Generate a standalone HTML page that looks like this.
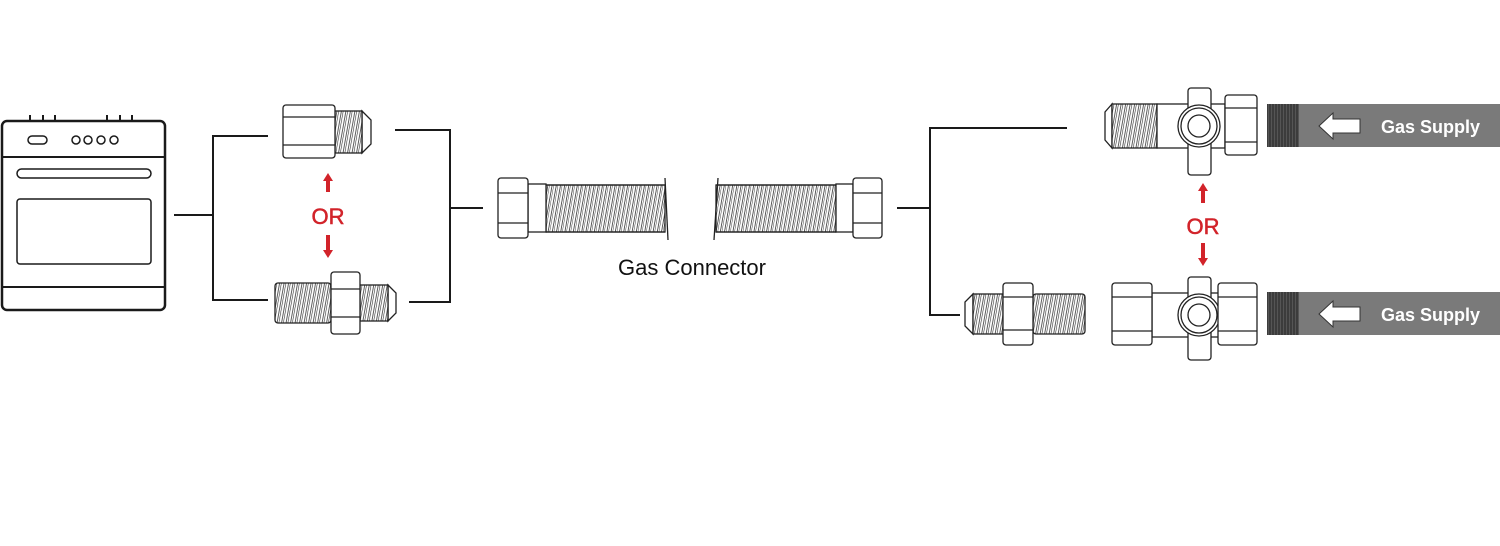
<!DOCTYPE html>
<html><head><meta charset="utf-8"><style>
html,body{margin:0;padding:0;background:#fff;}
svg{display:block;}
text{font-family:"Liberation Sans",sans-serif;}
</style></head><body>
<svg width="1500" height="546" viewBox="0 0 1500 546" xmlns="http://www.w3.org/2000/svg">
<defs>
<pattern id="th" width="4.5" height="10" patternUnits="userSpaceOnUse" patternTransform="skewX(-10)">
<rect width="4.5" height="10" fill="#fff"/><line x1="1" y1="0" x2="1" y2="10" stroke="#333" stroke-width="0.8"/><line x1="2.8" y1="0" x2="2.8" y2="10" stroke="#333" stroke-width="0.6"/>
</pattern>
<pattern id="cor" width="4.2" height="10" patternUnits="userSpaceOnUse" patternTransform="skewX(-10)">
<rect width="4.2" height="10" fill="#fff"/><line x1="1" y1="0" x2="1" y2="10" stroke="#333" stroke-width="0.8"/><line x1="2.6" y1="0" x2="2.6" y2="10" stroke="#444" stroke-width="0.5"/>
</pattern>
<pattern id="pth" width="3" height="10" patternUnits="userSpaceOnUse">
<rect width="3" height="10" fill="#555"/><line x1="1" y1="0" x2="1" y2="10" stroke="#222" stroke-width="1"/>
</pattern>
</defs>
<g fill="none" stroke="#1a1a1a" stroke-width="2">
<rect x="2" y="121" width="163" height="189" rx="5" stroke-width="2.5"/>
<line x1="2" y1="157" x2="165" y2="157"/>
<line x1="2" y1="287" x2="165" y2="287"/>
<path d="M30 115v6M43 115v6M55 115v6M107 115v6M120 115v6M132 115v6"/>
<rect x="28" y="136" width="19" height="8" rx="4" stroke-width="1.5"/>
<circle cx="76" cy="140" r="4" stroke-width="1.5"/><circle cx="88" cy="140" r="4" stroke-width="1.5"/><circle cx="101" cy="140" r="4" stroke-width="1.5"/><circle cx="114" cy="140" r="4" stroke-width="1.5"/>
<rect x="17" y="169" width="134" height="9" rx="4.5" stroke-width="1.5"/>
<rect x="17" y="199" width="134" height="65" rx="3" stroke-width="1.5"/>
<path d="M174 215H213M268 136H213V300H268"/>
<path d="M395 130H450V302H409M450 208H483"/>
<path d="M897 208H930M1067 128H930V315H960"/>
</g>
<g stroke="#222" stroke-width="1.3">
<path d="M362 111L371 120V144L362 153Z" fill="#fff"/>
<rect x="335" y="111" width="27" height="42" fill="url(#th)"/>
<rect x="283" y="105" width="52" height="53" rx="3" fill="#fff"/>
<path d="M283 117H335M283 145H335" fill="none"/>
<rect x="275" y="283" width="56" height="40" rx="3" fill="url(#th)"/>
<path d="M388 285L396 293V313L388 321Z" fill="#fff"/>
<rect x="360" y="285" width="28" height="36" fill="url(#th)"/>
<rect x="331" y="272" width="29" height="62" rx="3" fill="#fff"/>
<path d="M331 289H360M331 317H360" fill="none"/>
<rect x="546" y="185" width="119" height="47" fill="url(#cor)"/>
<path d="M546 185H665M546 232H665" fill="none"/>
<line x1="665" y1="178" x2="668" y2="240"/>
<rect x="528" y="184" width="18" height="48" fill="#fff"/>
<rect x="498" y="178" width="30" height="60" rx="3" fill="#fff"/>
<path d="M498 193H528M498 223H528" fill="none"/>
<rect x="716" y="185" width="120" height="47" fill="url(#cor)"/>
<path d="M716 185H836M716 232H836" fill="none"/>
<line x1="718" y1="178" x2="714" y2="240"/>
<rect x="836" y="184" width="17" height="48" fill="#fff"/>
<rect x="853" y="178" width="29" height="60" rx="3" fill="#fff"/>
<path d="M853 193H882M853 223H882" fill="none"/>
<path d="M1112 104L1105 112V140L1112 148Z" fill="#fff"/>
<rect x="1112" y="104" width="45" height="44" fill="url(#th)"/>
<rect x="1157" y="104" width="68" height="44" fill="#fff"/>
<rect x="1188" y="88" width="23" height="87" rx="3" fill="#fff"/>
<circle cx="1199" cy="126" r="21" fill="#fff"/><circle cx="1199" cy="126" r="18" fill="none"/><circle cx="1199" cy="126" r="11" fill="none"/>
<rect x="1225" y="95" width="32" height="60" rx="3" fill="#fff"/>
<path d="M1225 108H1257M1225 142H1257" fill="none"/>
<path d="M973 294L965 302V326L973 334Z" fill="#fff"/>
<rect x="973" y="294" width="30" height="40" fill="url(#th)"/>
<rect x="1033" y="294" width="52" height="40" rx="3" fill="url(#th)"/>
<rect x="1003" y="283" width="30" height="62" rx="3" fill="#fff"/>
<path d="M1003 297H1033M1003 330H1033" fill="none"/>
<rect x="1152" y="293" width="68" height="44" fill="#fff"/>
<rect x="1188" y="277" width="23" height="83" rx="3" fill="#fff"/>
<circle cx="1199" cy="315" r="21" fill="#fff"/><circle cx="1199" cy="315" r="18" fill="none"/><circle cx="1199" cy="315" r="11" fill="none"/>
<rect x="1112" y="283" width="40" height="62" rx="3" fill="#fff"/>
<path d="M1112 297H1152M1112 331H1152" fill="none"/>
<rect x="1218" y="283" width="39" height="62" rx="3" fill="#fff"/>
<path d="M1218 297H1257M1218 331H1257" fill="none"/>
</g>
<rect x="1267" y="104" width="233" height="43" fill="#7a7a7a"/>
<rect x="1267" y="104" width="32" height="43" fill="url(#pth)"/>
<path d="M1319 126L1333 113V119H1360V133H1333V139Z" fill="#fff" stroke="#333" stroke-width="1"/>
<text x="1381" y="133" font-size="18" font-weight="bold" fill="#fff">Gas Supply</text>
<rect x="1267" y="292" width="233" height="43" fill="#7a7a7a"/>
<rect x="1267" y="292" width="32" height="43" fill="url(#pth)"/>
<path d="M1319 314L1333 301V307H1360V321H1333V327Z" fill="#fff" stroke="#333" stroke-width="1"/>
<text x="1381" y="321" font-size="18" font-weight="bold" fill="#fff">Gas Supply</text>
<g fill="#d2232a">
<path d="M328 173L323 181H326V192H330V181H333Z"/>
<path d="M328 258L323 250H326V235H330V250H333Z"/>
<text x="328" y="224" font-size="22" text-anchor="middle" stroke="#d2232a" stroke-width="0.5">OR</text>
<path d="M1203 183L1198 191H1201V203H1205V191H1208Z"/>
<path d="M1203 266L1198 258H1201V243H1205V258H1208Z"/>
<text x="1203" y="234" font-size="22" text-anchor="middle" stroke="#d2232a" stroke-width="0.5">OR</text>
</g>
<text x="692" y="275" font-size="22" text-anchor="middle" fill="#111">Gas Connector</text>
</svg>
</body></html>
